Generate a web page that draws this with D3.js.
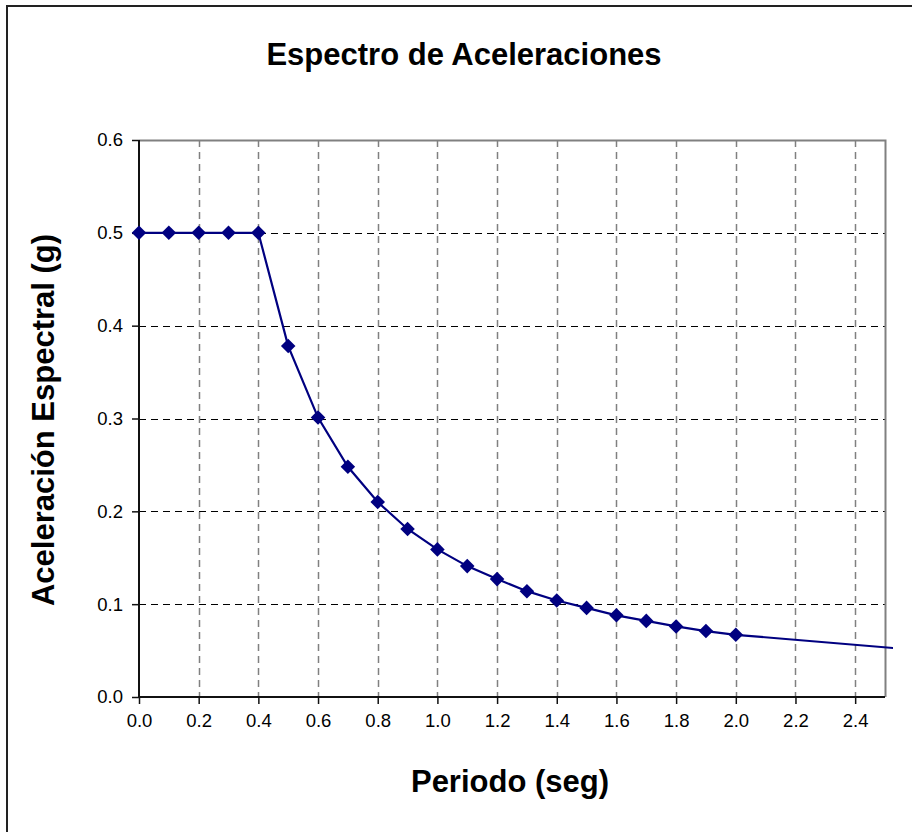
<!DOCTYPE html>
<html>
<head>
<meta charset="utf-8">
<script src="https://cdn.jsdelivr.net/npm/d3@7"></script>
<style>
  body { margin: 0; background: #fff; }
  svg { display: block; font-family: "Liberation Sans", Arial, sans-serif; }
</style>
</head>
<body>
<svg id="chart" width="912" height="832"></svg>
<script>
// datos del espectro
var periodos = [0.0, 0.1, 0.2, 0.3, 0.4, 0.5, 0.6, 0.7, 0.8, 0.9, 1.0, 1.1, 1.2, 1.3, 1.4, 1.5, 1.6, 1.7, 1.8, 1.9, 2.0, 3.0];
var aceleraciones = [0.5, 0.5, 0.5, 0.5, 0.5, 0.378, 0.301, 0.248, 0.210, 0.181, 0.159, 0.141, 0.127, 0.114, 0.104, 0.096, 0.088, 0.082, 0.076, 0.071, 0.067, 0.040];
var conMarcador = periodos.length - 1; // el ultimo punto no lleva marcador
var xTicks = [0.0, 0.2, 0.4, 0.6, 0.8, 1.0, 1.2, 1.4, 1.6, 1.8, 2.0, 2.2, 2.4];
var yTicks = [0.0, 0.1, 0.2, 0.3, 0.4, 0.5, 0.6];

var svg = d3.select('#chart');
var pLeft = 139, pRight = 885, pTop = 140, pBottom = 697;

var x = d3.scaleLinear().domain([0, 2.5]).range([pLeft, pRight]);
var y = d3.scaleLinear().domain([0, 0.6]).range([pBottom, pTop]);

var data = periodos.map(function(t, i){ return {t: t, a: aceleraciones[i]}; });

// borde del area del grafico
svg.append("rect")
   .attr("x", 7).attr("y", 6)
   .attr("width", 930).attr("height", 850)
   .attr("fill", "none")
   .attr("stroke", "#222").attr("stroke-width", 2);

// titulo
svg.append("text")
   .attr("x", 464).attr("y", 65)
   .attr("text-anchor", "middle")
   .attr("font-size", "31px").attr("font-weight", "bold")
   .text("Espectro de Aceleraciones");

// rejilla horizontal
svg.append("g").selectAll("line")
   .data(yTicks.filter(function(d){ return d > 0 && d < 0.6; }))
   .enter().append("line")
     .attr("x1", pLeft).attr("x2", pRight)
     .attr("y1", function(d){ return Math.round(y(d)) + 0.5; })
     .attr("y2", function(d){ return Math.round(y(d)) + 0.5; })
     .attr("stroke", "#000").attr("stroke-width", 1)
     .attr("stroke-dasharray", "7,5");

// rejilla vertical
svg.append("g").selectAll("line")
   .data(xTicks.filter(function(d){ return d > 0; }))
   .enter().append("line")
     .attr("x1", function(d){ return Math.round(x(d)) + 0.5; })
     .attr("x2", function(d){ return Math.round(x(d)) + 0.5; })
     .attr("y1", pTop).attr("y2", pBottom)
     .attr("stroke", "#808080").attr("stroke-width", 1.5)
     .attr("stroke-dasharray", "7,5");

// borde superior y derecho del area de trazado
svg.append("path")
   .attr("d", "M" + pLeft + "," + (pTop + 0.5) + "H" + (pRight + 0.5) + "V" + pBottom)
   .attr("fill", "none").attr("stroke", "#808080").attr("stroke-width", 2);

// ejes
var xAxis = d3.axisBottom(x).tickValues(xTicks).tickSize(7).tickFormat(d3.format(".1f"));
var yAxis = d3.axisLeft(y).tickValues(yTicks).tickSize(7).tickFormat(d3.format(".1f"));

var gx = svg.append("g").attr("transform", "translate(0," + pBottom + ")").call(xAxis);
var gy = svg.append("g").attr("transform", "translate(" + pLeft + ",0)").call(yAxis);

[gx, gy].forEach(function(g){
  g.select(".domain").attr("stroke", "#111").attr("stroke-width", 2);
  g.selectAll(".tick line").attr("stroke", "#111").attr("stroke-width", 1.5);
  g.selectAll(".tick text")
   .attr("fill", "#000")
   .style("font-size", "18.5px")
   .style("font-family", "'Liberation Sans', Arial, sans-serif");
});
gx.select(".domain").attr("d", "M" + pLeft + ",0H" + pRight);
gy.select(".domain").attr("d", "M0," + pBottom + "V" + pTop);
gx.selectAll(".tick text").attr("y", 10).attr("dy", "1.1em");
gy.selectAll(".tick text").attr("x", -16);

// titulos de ejes
svg.append("text")
   .attr("x", 510).attr("y", 792)
   .attr("text-anchor", "middle")
   .attr("font-size", "31px").attr("font-weight", "bold")
   .text("Periodo (seg)");

svg.append("text")
   .attr("transform", "translate(54,420) rotate(-90)")
   .attr("text-anchor", "middle")
   .attr("font-size", "31px").attr("font-weight", "bold")
   .text("Aceleración Espectral (g)");

// linea de la serie, recortada poco despues del area de trazado
svg.append("clipPath").attr("id", "recorte")
   .append("rect").attr("x", pLeft - 10).attr("y", pTop - 10)
   .attr("width", pRight - pLeft + 18).attr("height", pBottom - pTop + 20);

var line = d3.line()
   .x(function(d){ return x(d.t); })
   .y(function(d){ return y(d.a); });

svg.append("path")
   .datum(data)
   .attr("clip-path", "url(#recorte)")
   .attr("d", line)
   .attr("fill", "none")
   .attr("stroke", "#000080").attr("stroke-width", 2.2);

// marcadores (rombos)
var rombo = d3.symbol().type(d3.symbolDiamond2).size(135);
svg.append("g").selectAll("path")
   .data(data.slice(0, conMarcador))
   .enter().append("path")
     .attr("transform", function(d){ return "translate(" + x(d.t) + "," + y(d.a) + ")"; })
     .attr("d", rombo)
     .attr("fill", "#000080");
</script>
</body>
</html>
